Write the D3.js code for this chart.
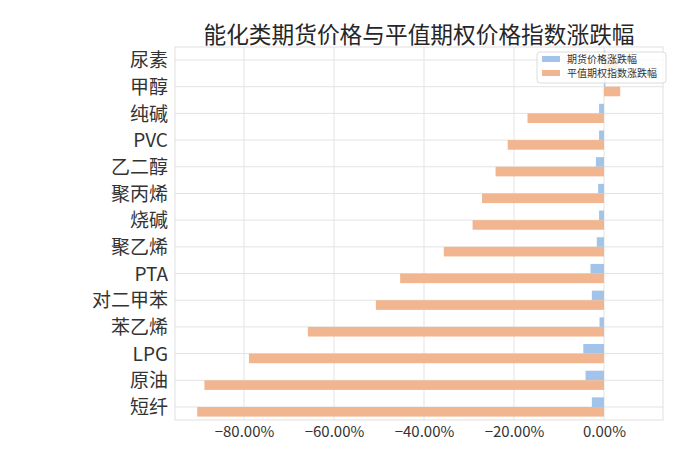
<!DOCTYPE html>
<html>
<head>
<meta charset="utf-8">
<script src="https://cdn.jsdelivr.net/npm/d3@7"></script>
<style>
  html, body { margin: 0; padding: 0; background: #fff; }
  svg { display: block; }
</style>
</head>
<body>
<svg id="chart" width="700" height="467"></svg>
<script>
const categories = ["尿素","甲醇","纯碱","PVC","乙二醇","聚丙烯","烧碱","聚乙烯","PTA","对二甲苯","苯乙烯","LPG","原油","短纤"];
const futuresChange = [0.3, 0.3, -1.1, -1.1, -1.8, -1.3, -1.1, -1.6, -3.0, -2.7, -1.0, -4.6, -4.1, -2.7];
const optionIndexChange = [3.0, 3.6, -17.0, -21.4, -24.1, -27.1, -29.2, -35.6, -45.3, -50.7, -65.8, -78.9, -88.8, -90.4];
const xTicks = [-80, -60, -40, -20, 0];
const seriesNames = ["期货价格涨跌幅", "平值期权指数涨跌幅"];
const title = "能化类期货价格与平值期权价格指数涨跌幅";

const colors = ["#a3c4ea", "#f1b68f"];
const font = "'Noto Sans CJK SC', 'Noto Sans', sans-serif";

const svg = d3.select("#chart");
const plot = {left: 175, right: 663, top: 47, bottom: 420};

const x = d3.scaleLinear().domain([-95.33, 13.11]).range([plot.left, plot.right]);
const y = d3.scaleLinear().domain([-0.4875, 13.4875]).range([plot.top, plot.bottom]);
const barH = y(0.36) - y(0);

// grid
const g = svg.append("g");
g.selectAll("line.vg").data(xTicks).enter().append("line")
  .attr("x1", d => x(d)).attr("x2", d => x(d))
  .attr("y1", plot.top).attr("y2", plot.bottom)
  .attr("stroke", "#e3e3e3").attr("stroke-width", 1);
g.selectAll("line.hg").data(categories).enter().append("line")
  .attr("x1", plot.left).attr("x2", plot.right)
  .attr("y1", (d, i) => y(i)).attr("y2", (d, i) => y(i))
  .attr("stroke", "#e3e3e3").attr("stroke-width", 1);

// frame
svg.append("rect")
  .attr("x", plot.left).attr("y", plot.top)
  .attr("width", plot.right - plot.left).attr("height", plot.bottom - plot.top)
  .attr("fill", "none").attr("stroke", "#e0e0e0").attr("stroke-width", 1);

// bars
svg.append("g").selectAll("rect").data(futuresChange).enter().append("rect")
  .attr("x", d => x(Math.min(0, d)))
  .attr("width", d => Math.abs(x(d) - x(0)))
  .attr("y", (d, i) => y(i) - barH)
  .attr("height", barH)
  .attr("fill", colors[0]);
svg.append("g").selectAll("rect").data(optionIndexChange).enter().append("rect")
  .attr("x", d => x(Math.min(0, d)))
  .attr("width", d => Math.abs(x(d) - x(0)))
  .attr("y", (d, i) => y(i))
  .attr("height", barH)
  .attr("fill", colors[1]);

// x axis
const xAxis = d3.axisBottom(x).tickValues(xTicks).tickSize(0).tickPadding(0)
  .tickFormat(d => (d < 0 ? "\u2212" : "") + Math.abs(d).toFixed(2) + "%");
const xa = svg.append("g").attr("transform", `translate(0,${plot.bottom})`).call(xAxis);
xa.select(".domain").remove();
xa.selectAll("text").attr("y", 17).attr("dy", 0)
  .attr("font-family", font).attr("font-size", 15).attr("fill", "#333");

// y axis
const yAxis = d3.axisLeft(y).tickValues(d3.range(categories.length)).tickSize(0).tickPadding(7)
  .tickFormat(i => categories[i]);
const ya = svg.append("g").attr("transform", `translate(${plot.left},0)`).call(yAxis);
ya.select(".domain").remove();
ya.selectAll("text").attr("dy", "0.35em")
  .attr("font-family", font).attr("font-size", 19).attr("fill", "#333");

// title
svg.append("text")
  .attr("x", (plot.left + plot.right) / 2).attr("y", 43)
  .attr("text-anchor", "middle")
  .attr("font-family", font).attr("font-size", 22.7).attr("fill", "#262626")
  .text(title);

// legend
const lg = svg.append("g");
lg.append("rect").attr("x", 537).attr("y", 52).attr("width", 129).attr("height", 31)
  .attr("rx", 3).attr("fill", "#fff").attr("fill-opacity", 0.8)
  .attr("stroke", "#dcdcdc").attr("stroke-width", 1);
seriesNames.forEach((name, i) => {
  lg.append("rect").attr("x", 542).attr("y", 56 + i * 14).attr("width", 18).attr("height", 6)
    .attr("fill", colors[i]);
  lg.append("text").attr("x", 567).attr("y", 59 + i * 14).attr("dy", "0.35em")
    .attr("font-family", font).attr("font-size", 10).attr("fill", "#333").text(name);
});
</script>
</body>
</html>
